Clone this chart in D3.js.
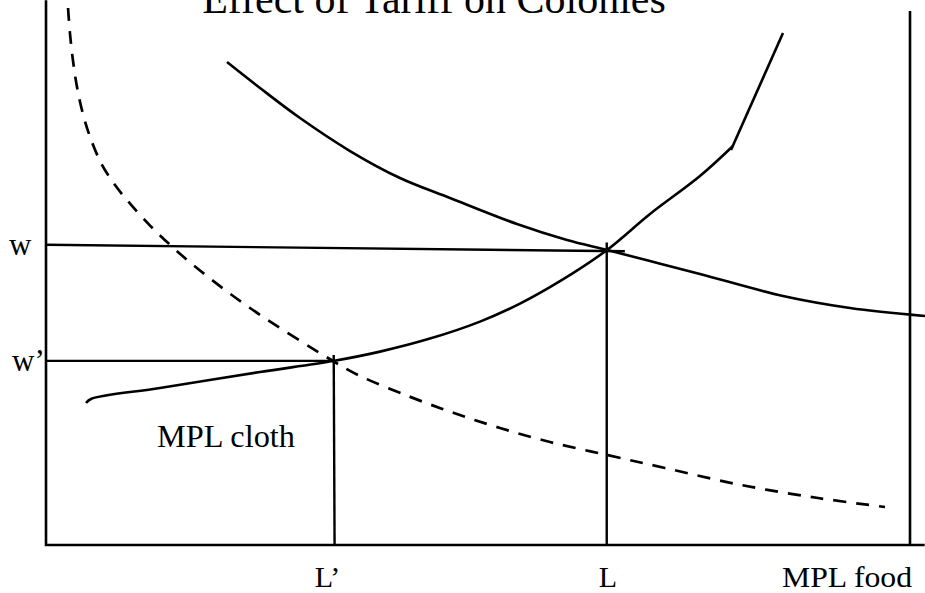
<!DOCTYPE html>
<html>
<head>
<meta charset="utf-8">
<script src="https://cdn.jsdelivr.net/npm/d3@7"></script>
<style>
    body { margin: 0; background: #fff; }
    text { font-family: "Liberation Serif", "Times New Roman", serif; fill: #000; }
</style>
</head>
<body>
<div class="tariff"></div>
<script>
const width = 925
const height = 593

// curves, in chart units (x: labour 0-100, y: wage 0-100)
const foodX = [20.95, 24.77, 29.40, 35.19, 40.97, 46.76, 54.51, 60.30, 64.93, 69.91, 75.69, 85.30, 93.06, 101.74]
const foodY = [89.44, 84.63, 79.07, 72.96, 67.96, 64.26, 59.44, 56.48, 54.63, 52.59, 50.19, 46.11, 43.89, 42.41]

const clothX = [4.63, 5.21, 13.19, 24.77, 33.22, 38.66, 44.44, 50.23, 54.86, 59.49, 64.93, 69.91, 75.69, 79.51]
const clothY = [26.30, 27.04, 29.07, 32.04, 34.07, 35.81, 38.22, 41.37, 44.70, 48.85, 54.63, 61.30, 68.33, 73.89]
const clothSteepX = [79.28, 85.30]
const clothSteepY = [73.15, 94.81]

const dashX = [2.55, 2.78, 3.13, 3.59, 4.28, 5.21, 6.48, 7.99, 9.61, 12.04, 14.70, 17.82, 23.61, 33.22, 36.11, 41.90, 47.22, 52.55, 58.33, 64.93, 71.64, 80.44, 89.35, 97.11]
const dashY = [99.44, 94.63, 89.63, 84.81, 79.81, 75.07, 70.39, 66.67, 63.43, 59.15, 55.09, 50.83, 43.89, 34.07, 31.48, 27.59, 24.44, 21.67, 19.07, 16.67, 14.26, 11.11, 8.70, 7.04]

// straight guide lines
const wLineX = [0, 67.0]
const wLineY = [55.6, 54.4]
const w2LineX = [0, 33.4]
const w2LineY = [34.1, 34.1]
const lPrimeX = [33.3, 33.4]
const lPrimeY = [35.2, 0]
const lX = [64.9, 64.9]
const lY = [56.0, 0]

const title = "Effect of Tariff on Colonies"
const xLabels = ["L\u2019", "L"]
const yLabels = ["w", "w\u2019"]

const x = d3.scaleLinear().domain([0, 100]).range([46, 910])
const y = d3.scaleLinear().domain([0, 100]).range([545, 5])

const zip = (xs, ys) => xs.map((d, i) => [d, ys[i]])

const svg = d3.select(".tariff")
    .append("svg")
    .attr("width", width)
    .attr("height", height)

const smooth = d3.line()
    .x(d => x(d[0]))
    .y(d => y(d[1]))
    .curve(d3.curveCatmullRom.alpha(0.5))

const straight = d3.line()
    .x(d => x(d[0]))
    .y(d => y(d[1]))

// frame: left axis, bottom axis, right axis for food
svg.append("path")
    .attr("d", straight([[0, 100.9], [0, 0], [101.7, 0]]))
    .attr("fill", "none")
    .attr("stroke", "#000")
    .attr("stroke-width", 2.6)

svg.append("path")
    .attr("d", straight([[100, 98.9], [100, 0]]))
    .attr("fill", "none")
    .attr("stroke", "#000")
    .attr("stroke-width", 2.6)

const guides = [zip(wLineX, wLineY), zip(w2LineX, w2LineY), zip(lPrimeX, lPrimeY), zip(lX, lY)]
svg.append("g")
    .selectAll("path")
    .data(guides)
    .join("path")
    .attr("d", d => straight(d))
    .attr("fill", "none")
    .attr("stroke", "#000")
    .attr("stroke-width", 2.4)

// MPL food
svg.append("path")
    .attr("d", smooth(zip(foodX, foodY)))
    .attr("fill", "none")
    .attr("stroke", "#000")
    .attr("stroke-width", 2.6)

// MPL cloth
svg.append("path")
    .attr("d", smooth(zip(clothX, clothY)))
    .attr("fill", "none")
    .attr("stroke", "#000")
    .attr("stroke-width", 2.6)

svg.append("path")
    .attr("d", straight(zip(clothSteepX, clothSteepY)))
    .attr("fill", "none")
    .attr("stroke", "#000")
    .attr("stroke-width", 2.6)

// dashed curve
svg.append("path")
    .attr("d", smooth(zip(dashX, dashY)))
    .attr("fill", "none")
    .attr("stroke", "#000")
    .attr("stroke-width", 2.7)
    .attr("stroke-dasharray", "13,10")

// texts
svg.append("text")
    .text(title)
    .attr("x", 434)
    .attr("y", 13)
    .attr("text-anchor", "middle")
    .attr("font-size", 42)

svg.selectAll(".ylab")
    .data(yLabels)
    .join("text")
    .attr("class", "ylab")
    .text(d => d)
    .attr("x", (d, i) => i === 0 ? 9 : 12)
    .attr("y", (d, i) => (i === 0 ? y(wLineY[0]) : y(w2LineY[0])) + 10)
    .attr("font-size", 31)

svg.selectAll(".xlab")
    .data(xLabels)
    .join("text")
    .attr("class", "xlab")
    .text(d => d)
    .attr("x", (d, i) => i === 0 ? x(lPrimeX[0]) - 19 : x(lX[0]) - 8)
    .attr("y", 587)
    .attr("font-size", 30)

svg.append("text")
    .text("MPL food")
    .attr("x", 782)
    .attr("y", 587)
    .attr("font-size", 30)
    .attr("textLength", 130)
    .attr("lengthAdjust", "spacingAndGlyphs")

svg.append("text")
    .text("MPL cloth")
    .attr("x", 157)
    .attr("y", 447)
    .attr("font-size", 31)
    .attr("textLength", 138)
    .attr("lengthAdjust", "spacingAndGlyphs")
</script>
</body>
</html>
